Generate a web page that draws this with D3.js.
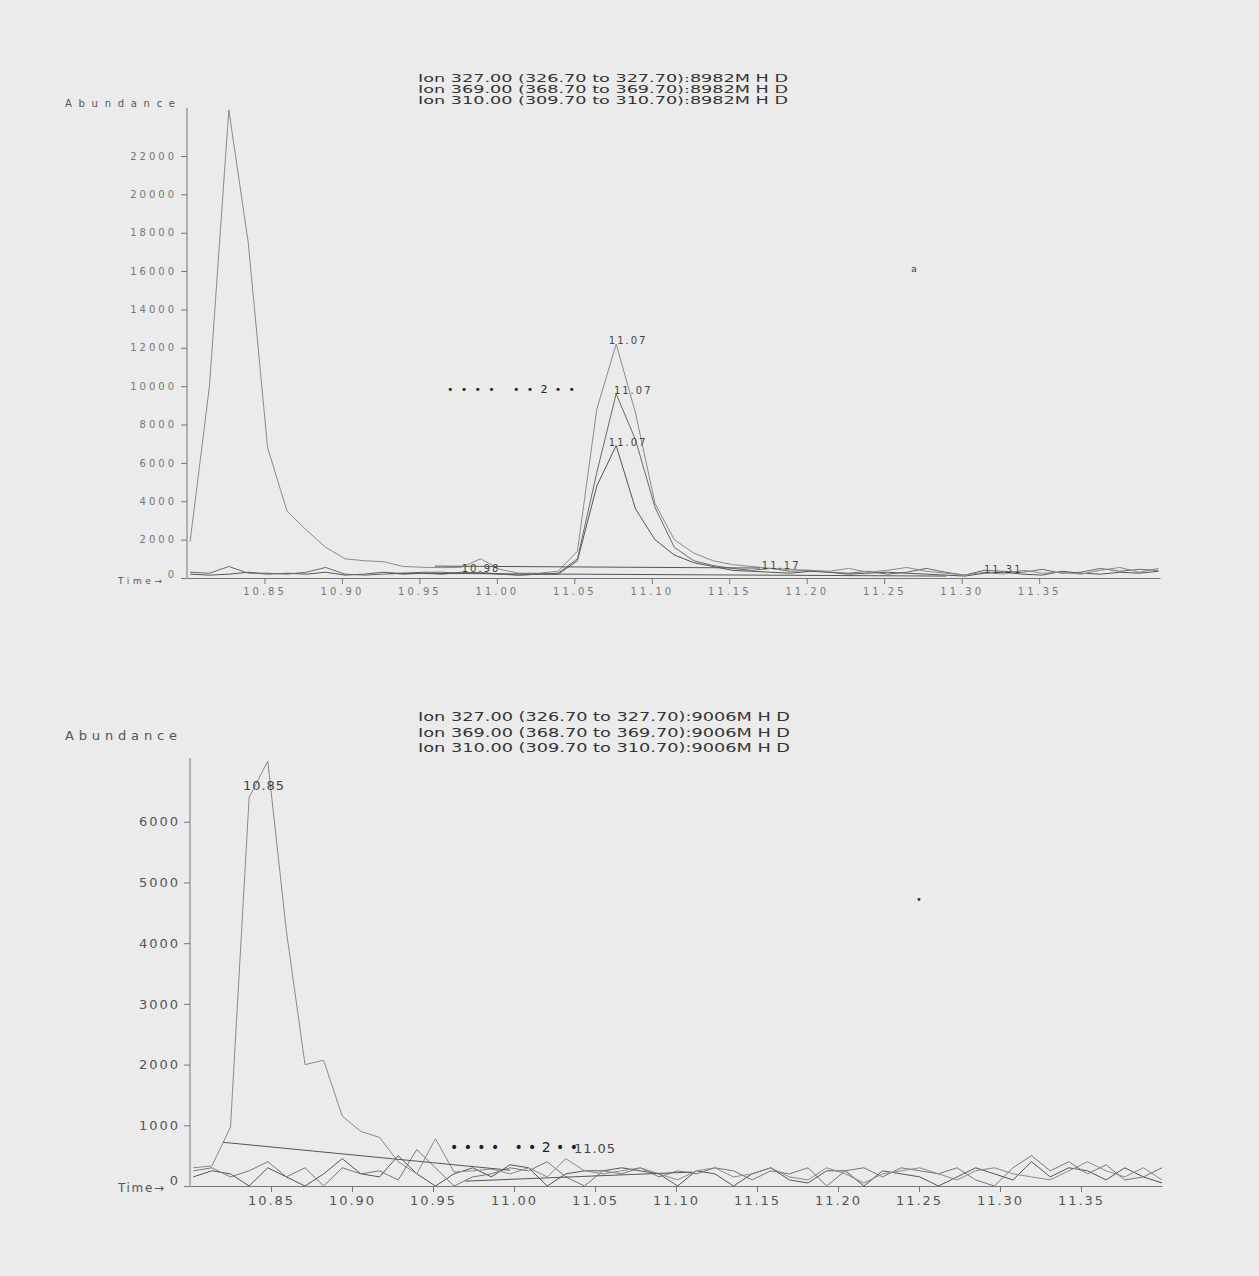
<!DOCTYPE html>
<html><head><meta charset="utf-8">
<script src="https://cdn.jsdelivr.net/npm/d3@7"></script>
<style>
html,body{margin:0;padding:0;background:#ebebeb;}
svg{display:block;}
text{font-family:"DejaVu Sans",sans-serif;}
</style></head><body>
<svg id="chart" width="1259" height="1276"></svg>
<script>
// ---------- Upper chromatogram (run 8982M) ----------
const topTitle = [
  "Ion 327.00 (326.70 to 327.70):8982M H D",
  "Ion 369.00 (368.70 to 369.70):8982M H D",
  "Ion 310.00 (309.70 to 310.70):8982M H D"
];
const topTimes = [10.802, 10.8145, 10.827, 10.8395, 10.852, 10.8645, 10.877, 10.8895, 10.902, 10.9145,
  10.927, 10.9395, 10.952, 10.9645, 10.977, 10.9895, 11.002, 11.0145, 11.027, 11.0395,
  11.052, 11.0645, 11.077, 11.0895, 11.102, 11.1145, 11.127, 11.1395, 11.152, 11.1645,
  11.177, 11.1895, 11.202, 11.2145, 11.227, 11.2395, 11.252, 11.2645, 11.277, 11.2895,
  11.302, 11.3145, 11.327, 11.3395, 11.352, 11.3645, 11.377, 11.3895, 11.402, 11.4145, 11.427];
const topIon327 = [200, 150, 200, 300, 200, 250, 200, 300, 150, 200,
  300, 200, 250, 200, 300, 250, 200, 150, 200, 200,
  900, 4800, 6900, 3600, 2000, 1200, 800, 600, 400, 350,
  300, 250, 350, 300, 200, 250, 300, 250, 200, 150,
  100, 250, 300, 200, 150, 350, 250, 200, 300, 250, 350];
const topIon369 = [300, 250, 600, 250, 250, 200, 300, 550, 200, 150,
  200, 250, 300, 300, 250, 300, 200, 150, 200, 250,
  1000, 5500, 9600, 7200, 3700, 1600, 900, 650, 500, 400,
  500, 350, 400, 300, 250, 350, 200, 300, 500, 300,
  150, 400, 350, 300, 450, 250, 300, 500, 350, 450, 400];
const topIon310 = [1900, 10000, 24400, 17500, 6800, 3500, 2500, 1600, 1000, 900,
  850, 600, 560, 540, 560, 1000, 450, 250, 250, 350,
  1400, 8800, 12200, 8600, 3900, 2000, 1300, 900, 700, 600,
  500, 450, 400, 350, 500, 300, 400, 550, 350, 250,
  150, 300, 200, 400, 250, 300, 200, 400, 550, 300, 500];
const topBaselines = [
  [[10.96, 620], [11.17, 520]],
  [[10.93, 250], [11.29, 100]]
];
const topYTicks = [0, 2000, 4000, 6000, 8000, 10000, 12000, 14000, 16000, 18000, 20000, 22000];
const topXTicks = [10.85, 10.90, 10.95, 11.00, 11.05, 11.10, 11.15, 11.20, 11.25, 11.30, 11.35];
const topPeakLabels = [
  {text: "11.07", t: 11.0847, v: 12360},
  {text: "11.07", t: 11.0880, v: 9750},
  {text: "11.07", t: 11.0847, v: 7040},
  {text: "10.98", t: 10.9898, v: 470},
  {text: "11.17", t: 11.1835, v: 630},
  {text: "11.31", t: 11.3268, v: 420}
];

// ---------- Lower chromatogram (run 9006M) ----------
const bottomTitle = [
  "Ion 327.00 (326.70 to 327.70):9006M H D",
  "Ion 369.00 (368.70 to 369.70):9006M H D",
  "Ion 310.00 (309.70 to 310.70):9006M H D"
];
const bottomTimes = [10.802, 10.8135, 10.825, 10.8365, 10.848, 10.8595, 10.871, 10.8825, 10.894, 10.9055,
  10.917, 10.9285, 10.940, 10.9515, 10.963, 10.9745, 10.986, 10.9975, 11.009, 11.0205,
  11.032, 11.0435, 11.055, 11.0665, 11.078, 11.0895, 11.101, 11.1125, 11.124, 11.1355,
  11.147, 11.1585, 11.170, 11.1815, 11.193, 11.2045, 11.216, 11.2275, 11.239, 11.2505,
  11.262, 11.2735, 11.285, 11.2965, 11.308, 11.3195, 11.331, 11.3425, 11.354, 11.3655,
  11.377, 11.3885, 11.400];
const bottomIon327 = [150, 250, 200, 0, 300, 150, 0, 200, 450, 200,
  150, 500, 200, 0, 200, 300, 150, 350, 300, 0,
  200, 250, 250, 300, 250, 200, 0, 250, 200, 0,
  200, 300, 100, 50, 250, 250, 0, 250, 200, 150,
  0, 150, 300, 200, 100, 400, 150, 300, 250, 100,
  300, 150, 50];
const bottomIon369 = [250, 300, 150, 250, 400, 150, 300, 0, 300, 200,
  250, 100, 600, 300, 0, 150, 200, 300, 250, 400,
  150, 0, 250, 200, 300, 150, 250, 200, 300, 250,
  100, 250, 200, 300, 0, 250, 300, 150, 300, 250,
  200, 300, 100, 0, 300, 500, 250, 400, 200, 350,
  100, 150, 300];
const bottomIon310 = [300, 330, 970, 6400, 7000, 4200, 2000, 2070, 1150, 900,
  800, 400, 200, 780, 230, 250, 280, 200, 300, 150,
  450, 250, 200, 250, 300, 200, 100, 250, 300, 150,
  200, 300, 150, 100, 300, 200, 50, 200, 250, 300,
  200, 100, 250, 300, 200, 150, 100, 250, 400, 250,
  150, 300, 100];
const bottomBaselines = [
  [[10.8204, 720], [10.9975, 260]],
  [[10.97, 80], [11.11, 230]]
];
const bottomYTicks = [0, 1000, 2000, 3000, 4000, 5000, 6000];
const bottomXTicks = [10.85, 10.90, 10.95, 11.00, 11.05, 11.10, 11.15, 11.20, 11.25, 11.30, 11.35];
const bottomPeakLabels = [
  {text: "10.85", t: 10.8457, v: 6595},
  {text: "11.05", t: 11.0500, v: 620}
];

const svg = d3.select("#chart");

function drawPanel(p) {
  const g = svg.append("g");
  const x = d3.scaleLinear().domain(p.xDomain).range(p.xRange);
  const y = d3.scaleLinear().domain(p.yDomain).range(p.yRange);

  // header lines
  p.title.forEach((s, i) => {
    g.append("text").attr("x", p.titleX).attr("y", p.titleY + i * p.titleStep)
      .attr("font-size", p.titleSize).attr("fill", "#333")
      .attr("textLength", p.titleWidth).attr("lengthAdjust", "spacingAndGlyphs")
      .text(s);
  });

  // axis captions
  g.append("text").attr("x", 65).attr("y", p.abundY).attr("font-size", p.capSize)
    .attr("fill", "#555").attr("textLength", p.abundW).attr("lengthAdjust", "spacing").text("Abundance");
  g.append("text").attr("x", 118).attr("y", y(0) + 6).attr("font-size", p.capSize - 1)
    .attr("fill", "#555").attr("textLength", p.timeW).attr("lengthAdjust", "spacing").text("Time\u2192");

  // y axis: major labelled ticks plus minor ticks
  const yMinor = d3.range(0, p.yDomain[1], p.yMinorStep);
  const yg = g.append("g").attr("transform", `translate(${p.xRange[0]},0)`);
  yg.call(d3.axisLeft(y).tickValues(yMinor).tickSize(3).tickFormat("").tickSizeOuter(0));
  yg.call(d3.axisLeft(y).tickValues(p.yTicks).tickSize(6).tickPadding(4)
    .tickFormat(d3.format("d")).tickSizeOuter(0));
  yg.selectAll("path.domain").remove();
  yg.append("line").attr("x1", 0).attr("x2", 0).attr("y1", y(0)).attr("y2", p.yRange[1])
    .attr("stroke", "#777");
  yg.selectAll("line").attr("stroke", "#777");
  yg.selectAll("text").attr("font-size", p.tickSize).attr("fill", p.tickColor)
    .attr("letter-spacing", p.tickSpacing).attr("font-family", "DejaVu Sans");
  // the zero label sits a little above the time axis
  yg.selectAll(".tick text").filter(d => d === 0).attr("dy", "-0.1em");

  // x axis along zero abundance
  const xMinor = d3.range(Math.round(p.xDomain[0] * 100) + 1, Math.floor(p.xDomain[1] * 100) + 1).map(v => v / 100);
  const xg = g.append("g").attr("transform", `translate(0,${y(0)})`);
  xg.call(d3.axisBottom(x).tickValues(xMinor).tickSize(3).tickFormat("").tickSizeOuter(0));
  xg.call(d3.axisBottom(x).tickValues(p.xTicks).tickSize(6).tickPadding(4)
    .tickFormat(d3.format(".2f")).tickSizeOuter(0));
  xg.selectAll("path.domain").attr("stroke", "#777");
  xg.selectAll("line").attr("stroke", "#777");
  xg.selectAll("text").attr("font-size", p.tickSize).attr("fill", p.tickColor)
    .attr("letter-spacing", p.tickSpacing).attr("font-family", "DejaVu Sans");

  // ion traces
  const line = d3.line().x((d, i) => x(p.times[i])).y(d => y(d));
  p.series.forEach(s => {
    g.append("path").datum(s.values).attr("d", line)
      .attr("fill", "none").attr("stroke", s.color).attr("stroke-width", 1);
  });

  // integration baselines
  const seg = d3.line().x(d => x(d[0])).y(d => y(d[1]));
  p.baselines.forEach(b => {
    g.append("path").datum(b).attr("d", seg).attr("fill", "none")
      .attr("stroke", "#555").attr("stroke-width", 1);
  });

  // retention time labels
  p.labels.forEach(l => {
    g.append("text").attr("x", x(l.t)).attr("y", y(l.v)).attr("dy", "0.35em")
      .attr("text-anchor", "middle").attr("font-size", p.tickSize).attr("fill", "#444")
      .attr("letter-spacing", p.labelSpacing).text(l.text);
  });

  // dotted marker strings
  g.append("text").attr("x", p.dots.x).attr("y", p.dots.y).attr("font-size", p.tickSize + 1)
    .attr("fill", "#222").style("white-space", "pre")
    .attr("textLength", p.dots.w).attr("lengthAdjust", "spacing")
    .text("\u2022 \u2022 \u2022 \u2022   \u2022 \u2022 2 \u2022 \u2022");
  if (p.mark) {
    g.append("text").attr("x", p.mark.x).attr("y", p.mark.y).attr("font-size", p.mark.size)
      .attr("fill", "#333").attr("text-anchor", "middle").text(p.mark.text);
  }
}

drawPanel({
  title: topTitle, titleX: 418, titleY: 82, titleStep: 11, titleSize: 10, titleWidth: 370,
  abundY: 107, abundW: 110, capSize: 10, timeW: 44,
  xDomain: [10.80, 11.428], xRange: [187, 1160],
  yDomain: [0, 24500], yRange: [578, 108], yMinorStep: 400,
  yTicks: topYTicks, xTicks: topXTicks, tickSize: 10, tickSpacing: 3, labelSpacing: 2,
  tickColor: "#777",
  times: topTimes,
  series: [
    {values: topIon327, color: "#555"},
    {values: topIon369, color: "#6a6a6a"},
    {values: topIon310, color: "#8a8a8a"}
  ],
  baselines: topBaselines, labels: topPeakLabels,
  dots: {x: 447, y: 393, w: 128},
  mark: {x: 914, y: 272, text: "a", size: 9}
});

drawPanel({
  title: bottomTitle, titleX: 418, titleY: 721, titleStep: 15.5, titleSize: 12.5, titleWidth: 372,
  abundY: 740, abundW: 112, capSize: 13, timeW: 46,
  xDomain: [10.80, 11.40], xRange: [190, 1162],
  yDomain: [0, 7050], yRange: [1186, 758], yMinorStep: 200,
  yTicks: bottomYTicks, xTicks: bottomXTicks, tickSize: 13, tickSpacing: 2, labelSpacing: 1,
  tickColor: "#555",
  times: bottomTimes,
  series: [
    {values: bottomIon327, color: "#555"},
    {values: bottomIon369, color: "#777"},
    {values: bottomIon310, color: "#8a8a8a"}
  ],
  baselines: bottomBaselines, labels: bottomPeakLabels,
  dots: {x: 450, y: 1152, w: 128},
  mark: {x: 919, y: 903, text: "\u2022", size: 10}
});
</script></body></html>
